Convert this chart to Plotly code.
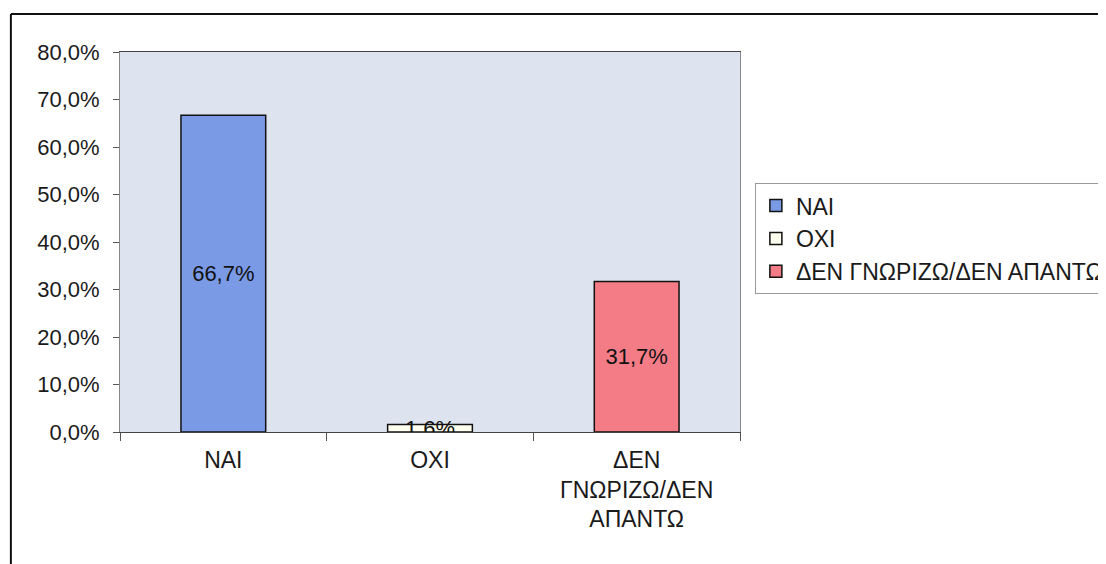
import plotly.graph_objects as go

categories = ["ΝΑΙ", "ΟΧΙ", "ΔΕΝ ΓΝΩΡΙΖΩ/ΔΕΝ ΑΠΑΝΤΩ"]
tick_labels = ["ΝΑΙ", "ΟΧΙ", "ΔΕΝ<br>ΓΝΩΡΙΖΩ/ΔΕΝ<br>ΑΠΑΝΤΩ"]
values = [0.667, 0.016, 0.317]
colors = ["#7b9ae6", "#fffff0", "#f47c86"]

fig = go.Figure()
for cat, lab, val, col in zip(categories, tick_labels, values, colors):
    fig.add_trace(go.Bar(
        x=[lab],
        y=[val],
        name=cat,
        marker=dict(color=col, line=dict(color="#111111", width=1.5)),
        texttemplate="%{y:.1%}",
        textposition="inside",
        insidetextanchor="middle",
        textfont=dict(color="#111111", size=22),
        width=0.41,
    ))

# the page has an 8px body margin, so the margins are shifted by that much
fig.update_layout(
    width=1106,
    height=564,
    barmode="overlay",
    separators=",.",
    font=dict(family="Liberation Sans, Arial, sans-serif", size=22, color="#1a1a1a"),
    paper_bgcolor="white",
    plot_bgcolor="#dde3ef",
    margin=dict(l=112, r=374, t=44, b=140, autoexpand=False),
    uniformtext=dict(minsize=22, mode="show"),
    legend=dict(
        x=1.024, y=0.655, xanchor="left", yanchor="top",
        bordercolor="#999999", borderwidth=1,
        font=dict(size=23), itemwidth=30,
        tracegroupgap=5,
    ),
    shapes=[
        dict(type="line", xref="paper", yref="paper", x0=-0.176, x1=1.7, y0=1.1, y1=1.1,
             line=dict(color="#111111", width=2)),
        dict(type="line", xref="paper", yref="paper", x0=-0.176, x1=-0.176, y0=1.1, y1=-0.4,
             line=dict(color="#111111", width=2)),
    ],
)
fig.update_yaxes(
    range=[0, 0.8], dtick=0.1, tickformat=".1%",
    showgrid=False, ticks="outside", ticklen=6, tickcolor="#555555",
    ticklabelstandoff=9,
    showline=True, linecolor="#888888", mirror=True, zeroline=False,
)
fig.update_xaxes(
    tickfont=dict(size=23),
    ticks="outside", tickson="boundaries", ticklen=8, tickcolor="#555555",
    ticklabelstandoff=7,
    showline=True, linecolor="#444444", mirror=True, showgrid=False,
)

fig.write_html("out.html")
